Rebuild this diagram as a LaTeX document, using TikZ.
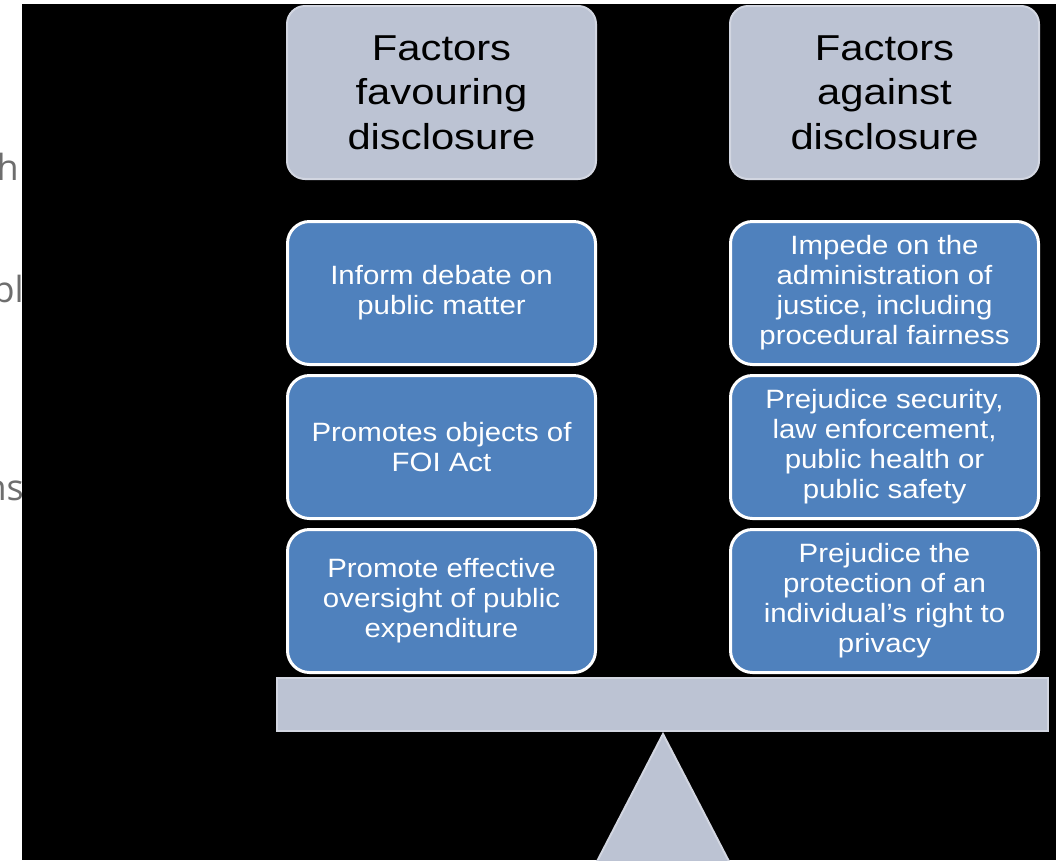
\documentclass[tikz,border=0pt]{standalone}
\usepackage{fontspec}
\setmainfont{Liberation Sans}
\newfontfamily\widefont[FakeStretch=1.11]{Liberation Sans}
\newfontfamily\hdrfont[FakeStretch=1.16]{Liberation Sans}
\newfontfamily\grayfont{Open Sans}
\definecolor{hdr}{HTML}{BCC3D3}
\definecolor{hdredge}{HTML}{D2D6E1}
\definecolor{blu}{HTML}{4F81BD}
\definecolor{gtxt}{HTML}{6E6E6E}
\begin{document}
\begin{tikzpicture}[x=1pt,y=-1pt,
  hdrbox/.style={draw=hdredge, line width=2pt, fill=hdr, rounded corners=18pt,
    minimum width=309pt, minimum height=173pt, align=center, inner sep=0pt,
    font=\hdrfont\fontsize{36}{44.5}\selectfont, text=black},
  factor/.style={draw=white, line width=3pt, fill=blu, rounded corners=22pt,
    minimum width=308pt, minimum height=143pt, align=center, inner sep=0pt,
    font=\widefont\fontsize{26.5}{30}\selectfont, text=white},
  scalepart/.style={draw=hdredge, line width=2pt, fill=hdr},
  cut/.style={text=gtxt, font=\grayfont\fontsize{36}{40}\selectfont, inner sep=0pt, anchor=base east}]
\useasboundingbox (0,0) rectangle (1056,860);
\clip (0,0) rectangle (1056,860);
\fill[white] (0,0) rectangle (1056,860);
% clipped text fragments at the left edge
\node[cut] (g1) at (19,180) {h};
\node[cut] (g2) at (24,302) {pl};
\node[cut] (g3) at (24,500) {ns};
% black slide background
\fill[black] (22,4) rectangle (1056,860);
% headers
\node[hdrbox] (hl) at (441.5,92.5) {Factors\\favouring\\disclosure};
\node[hdrbox] (hr) at (884.5,92.5) {Factors\\against\\disclosure};
% left factors
\node[factor] (l1) at (441.5,293) {Inform debate on\\public matter};
\node[factor] (l2) at (441.5,447) {Promotes objects of\\FOI Act};
\node[factor] (l3) at (441.5,601) {Promote effective\\oversight of public\\expenditure};
% right factors
\node[factor] (r1) at (884.5,293) {Impede on the\\administration of\\justice, including\\procedural fairness};
\node[factor] (r2) at (884.5,447) {Prejudice security,\\law enforcement,\\public health or\\public safety};
\node[factor] (r3) at (884.5,601) {Prejudice the\\protection of an\\individual’s right to\\privacy};
% beam and fulcrum
\draw[scalepart] (277,678) rectangle (1048,731);
\draw[scalepart] (663,734) -- (577,900) -- (749,900) -- cycle;
\end{tikzpicture}
\end{document}
